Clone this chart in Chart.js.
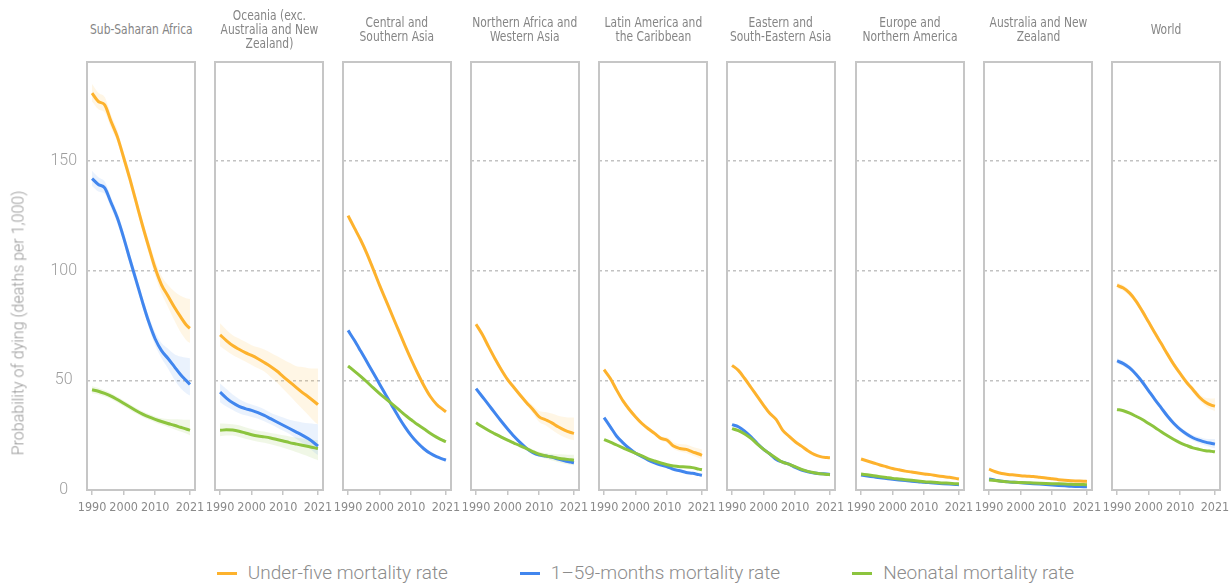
<!DOCTYPE html>
<html>
<head>
<meta charset="utf-8">
<script src="https://cdn.jsdelivr.net/npm/chart.js@4.4.1/dist/chart.umd.min.js"></script>
<style>
  html, body { margin: 0; padding: 0; background: #ffffff; }
  #wrap { position: relative; width: 1229px; height: 584px; overflow: hidden; background: #fff; }
  #wrap canvas { position: absolute; }
  .ttl {
    position: absolute; top: 6px; height: 46px;
    display: flex; align-items: center; justify-content: center; text-align: center;
    white-space: pre-line;
    font-family: 'Liberation Sans Narrow', 'DejaVu Sans Condensed', 'Arial Narrow', sans-serif;
    font-size: 14px; line-height: 14px; color: #858585;
  }
  .ttl span { display: inline-block; transform: scaleX(0.85); }
  .ytitle {
    position: absolute; left: 18px; top: 323px; width: 0; height: 0;
  }
  .ytitle span {
    position: absolute; left: 0; top: 0; white-space: nowrap;
    transform: translate(-50%, -50%) rotate(-90deg);
    font-family: Roboto, 'Noto Sans', sans-serif; font-weight: 300;
    font-size: 16px; color: #999999;
  }
  .legend {
    position: absolute; top: 561px; left: 0; width: 1291px;
    display: flex; justify-content: center; gap: 72px;
    font-family: Roboto, 'Noto Sans', sans-serif; font-weight: 300;
    font-size: 19px; line-height: 24px; color: #8c8c8c;
  }
  .legend .item { display: flex; align-items: center; }
  .legend .swatch { width: 20px; height: 3px; margin-right: 11px; }
</style>
</head>
<body>
<div id="wrap"></div>
<script>
// Years sampled along each curve
const years = [1990, 1992, 1994, 1996, 1998, 2000, 2002, 2004, 2006, 2008, 2010, 2012, 2014, 2016, 2018, 2020, 2021];
const xTicks = [1990, 2000, 2010, 2021];
const yTicks = [0, 50, 100, 150];

const regionNames = [
  'Sub-Saharan Africa',
  'Oceania (exc.\nAustralia and New\nZealand)',
  'Central and\nSouthern Asia',
  'Northern Africa and\nWestern Asia',
  'Latin America and\nthe Caribbean',
  'Eastern and\nSouth-Eastern Asia',
  'Europe and\nNorthern America',
  'Australia and New\nZealand',
  'World'
];
const seriesNames = ['Under-five mortality rate', '1–59-months mortality rate', 'Neonatal mortality rate'];

// Sub-Saharan Africa
const ssaU5   = [180.8, 177, 175.5, 168, 161, 151.5, 141.6, 131, 120.4, 110.5, 101, 93.5, 88.5, 83.5, 79, 74.9, 73.7];
const ssaU5Lo = [177, 173.5, 172, 165, 158.5, 149, 139, 128.5, 118, 107.5, 97.5, 89.5, 83.5, 77.5, 72, 68, 67];
const ssaU5Hi = [185, 181, 179, 171, 164, 154, 144.5, 133.5, 123, 113.5, 104.5, 97.5, 93.5, 90.5, 88.5, 87.3, 87];
const ssaPost   = [141.9, 139.2, 137.7, 131, 124, 115, 105, 95.3, 85.5, 76.4, 68.8, 63.5, 60, 56.3, 52.6, 49.6, 48.1];
const ssaPostLo = [138.5, 136, 135, 128.5, 121.5, 112.5, 102.5, 92.8, 83, 73.8, 65.8, 60, 55.5, 50.5, 46.5, 43.8, 43];
const ssaPostHi = [145.5, 142.5, 140.5, 133.5, 126.5, 117.5, 107.5, 97.8, 88, 79, 71.8, 67, 64.5, 62, 60.8, 60.2, 60];
const ssaNeo   = [45.7, 45, 44, 42.8, 41.2, 39.5, 37.8, 36.1, 34.6, 33.3, 32.2, 31.2, 30.3, 29.5, 28.6, 27.7, 27.2];
const ssaNeoLo = [44.1, 43.5, 42.6, 41.5, 39.9, 38.2, 36.5, 34.8, 33.3, 32, 30.8, 29.7, 28.7, 27.7, 26.6, 25.6, 25];
const ssaNeoHi = [47.3, 46.5, 45.4, 44.1, 42.5, 40.8, 39.1, 37.4, 35.9, 34.6, 33.5, 32.7, 32.4, 32.2, 32.1, 32, 32];

// Oceania (exc. Australia and New Zealand)
const oceU5   = [70.7, 68.1, 65.8, 64.1, 62.6, 61.3, 59.8, 58.1, 56.3, 54.2, 51.7, 49.3, 46.9, 44.5, 42.4, 40.1, 38.9];
const oceU5Lo = [65.5, 63.5, 61.5, 60, 58.5, 57, 55.5, 54, 51.5, 49, 46, 43, 40, 37, 34, 31, 30];
const oceU5Hi = [76, 73, 70.5, 69, 67.5, 66, 65, 64, 62.5, 61, 59.5, 58, 56.5, 56, 55.5, 55.3, 55.3];
const ocePost   = [44.6, 41.9, 39.7, 38.1, 37.1, 36.3, 35.3, 34, 32.5, 31, 29.5, 28, 26.5, 25, 23.3, 21.2, 20];
const ocePostLo = [40, 38, 36.5, 35, 34, 33.3, 32.5, 31.3, 30, 28.5, 27, 25.5, 23.5, 21.5, 19.5, 17, 16];
const ocePostHi = [48.5, 46, 43.5, 41.5, 40, 39, 38, 36.8, 35.2, 34, 33, 32, 31.3, 30.8, 30.4, 30.1, 30];
const oceNeo   = [27.2, 27.4, 27.3, 26.8, 26, 25.2, 24.6, 24.2, 23.7, 23, 22.3, 21.6, 21, 20.4, 19.8, 19.2, 18.9];
const oceNeoLo = [24.5, 24.8, 24.8, 24.2, 23.4, 22.7, 22, 21.5, 20.8, 20, 19.2, 18.3, 17.3, 16.3, 15.3, 14.1, 13.6];
const oceNeoHi = [30.3, 30.2, 30, 29.5, 28.6, 27.8, 27, 26.6, 26, 25.5, 24.9, 24.4, 23.9, 23.5, 23.1, 22.8, 22.7];

// Central and Southern Asia
const csaU5   = [125, 119.4, 113.9, 107.6, 100.5, 93.2, 86.4, 79.5, 72.7, 65.9, 59.4, 53.3, 47.6, 42.7, 39.1, 36.7, 35.6];
const csaPost = [72.7, 68.2, 63.3, 58.3, 53.3, 48.2, 43.2, 38.2, 33.3, 28.8, 24.8, 21.5, 18.8, 16.7, 15.2, 14.1, 13.6];
const csaNeo  = [56.5, 54.2, 51.8, 49.2, 46.5, 43.9, 41.5, 39.1, 36.7, 34.2, 32, 29.8, 27.9, 25.9, 24.1, 22.6, 22];

// Northern Africa and Western Asia
const nawU5   = [75.5, 70.8, 65.2, 59.8, 54.8, 50.3, 46.7, 43.2, 39.8, 36.7, 33.3, 32, 30.6, 28.8, 27.3, 26.2, 25.8];
const nawU5Lo = [74.5, 69.8, 64.2, 58.8, 53.8, 49.3, 45.7, 42.1, 38.6, 35, 31, 29.5, 27.5, 25.5, 24, 23, 22.7];
const nawU5Hi = [76.5, 71.8, 66.2, 60.8, 55.8, 51.3, 47.7, 44.3, 41, 38.5, 36, 35.5, 34.8, 33.8, 33.3, 33, 33];
const nawPost = [46.2, 42.5, 38.8, 35, 31.3, 27.8, 24.5, 21.6, 19, 17, 15.9, 15.5, 15, 14.1, 13.3, 12.7, 12.4];
const nawNeo   = [30.6, 28.8, 27.1, 25.6, 24.1, 22.7, 21.4, 20.1, 18.9, 17.5, 16.3, 15.6, 15, 14.5, 14.1, 13.8, 13.6];
const nawNeoLo = [29.9, 28.1, 26.4, 24.9, 23.4, 22, 20.7, 19.3, 18, 16.5, 15.2, 14.3, 13.4, 12.7, 12, 11.5, 11.2];
const nawNeoHi = [31.3, 29.5, 27.8, 26.3, 24.8, 23.4, 22.1, 20.9, 19.8, 18.5, 17.4, 16.9, 16.5, 16.3, 16.2, 16.1, 16.1];

// Latin America and the Caribbean
const lacU5   = [54.8, 50.8, 45.5, 40.6, 36.7, 33.3, 30.3, 27.9, 25.8, 23.5, 22.7, 20, 18.9, 18.5, 17.4, 16.4, 15.8];
const lacU5Lo = [53.8, 49.8, 44.5, 39.6, 35.7, 32.3, 29.3, 26.9, 24.8, 22.5, 21.4, 18.7, 17.5, 16.9, 15.7, 14.6, 13.9];
const lacU5Hi = [55.8, 51.8, 46.5, 41.6, 37.7, 34.3, 31.3, 28.9, 26.8, 24.5, 24, 21.8, 21, 20.7, 19.7, 18.9, 18.4];
const lacPost = [33, 28.8, 24.5, 21.5, 18.9, 16.7, 15.2, 13.6, 12.4, 11.4, 10.6, 9.4, 8.8, 8, 7.6, 7, 6.7];
const lacNeo  = [23, 21.8, 20.5, 19.2, 17.9, 16.7, 15.5, 14.2, 13.2, 12.3, 11.5, 10.9, 10.6, 10.5, 10.2, 9.5, 9.2];

// Eastern and South-Eastern Asia
const esaU5   = [56.8, 54.5, 50.8, 46.7, 42.7, 38.6, 34.8, 32.1, 27.3, 24.5, 22, 20, 17.9, 16.2, 15.2, 14.8, 14.7];
const esaPost = [29.8, 28.8, 26.8, 24.2, 21.2, 18.5, 16.4, 13.9, 12.7, 11.8, 10.3, 9.1, 8.3, 7.7, 7.4, 7.3, 7.1];
const esaNeo  = [28, 27, 25.5, 23.5, 20.9, 18.5, 16.4, 14.5, 12.7, 11.8, 10.6, 9.4, 8.5, 7.9, 7.4, 7.1, 7];

// Europe and Northern America
const enaU5   = [14.1, 13.2, 12.3, 11.4, 10.6, 9.8, 9.2, 8.6, 8.2, 7.7, 7.3, 7, 6.5, 6.1, 5.8, 5.3, 5];
const enaPost = [6.8, 6.4, 6, 5.6, 5.2, 4.9, 4.6, 4.3, 4, 3.8, 3.5, 3.3, 3.1, 2.9, 2.7, 2.5, 2.4];
const enaNeo  = [7.3, 6.9, 6.5, 6.1, 5.7, 5.3, 5, 4.7, 4.4, 4.1, 3.8, 3.6, 3.4, 3.2, 3.1, 2.9, 2.9];

// Australia and New Zealand
const anzU5   = [9.5, 8.3, 7.5, 7.1, 6.8, 6.5, 6.3, 6.1, 5.8, 5.5, 5.1, 4.7, 4.4, 4.2, 4.1, 4, 3.9];
const anzPost = [5, 4.5, 4, 3.7, 3.5, 3.3, 3.1, 2.9, 2.7, 2.5, 2.3, 2.1, 1.9, 1.7, 1.6, 1.5, 1.5];
const anzNeo  = [4.6, 4.3, 4, 3.7, 3.5, 3.4, 3.3, 3.2, 3.1, 3, 2.9, 2.8, 2.7, 2.6, 2.5, 2.5, 2.4];

// World
const wldU5   = [93.2, 92, 89.7, 86.1, 81.5, 76.5, 71.5, 66.7, 61.8, 57.1, 53, 49.1, 45.8, 42.4, 40, 38.6, 38.2];
const wldU5Lo = [91.9, 90.7, 88.4, 84.8, 80.2, 75.3, 70.3, 65.5, 60.6, 55.9, 51.8, 47.8, 44.4, 40.9, 38.2, 36.6, 35.9];
const wldU5Hi = [94.5, 93.3, 91, 87.4, 82.8, 77.7, 72.7, 67.9, 63, 58.3, 54.2, 50.4, 47.2, 44, 42, 41.7, 41.8];
const wldPost   = [58.8, 57.6, 55.6, 52.7, 49.2, 45.2, 41.2, 37.4, 33.6, 30.3, 27.6, 25.5, 23.8, 22.7, 21.8, 21.2, 20.9];
const wldPostLo = [57.6, 56.4, 54.4, 51.6, 48.1, 44.1, 40.1, 36.3, 32.5, 29.2, 26.5, 24.3, 22.5, 21.3, 20.3, 19.4, 19];
const wldPostHi = [60, 58.8, 56.8, 53.8, 50.3, 46.3, 42.3, 38.5, 34.7, 31.4, 28.7, 26.7, 25.1, 24.1, 23.4, 23.2, 23.2];
const wldNeo  = [36.7, 36.1, 35, 33.6, 32.1, 30.3, 28.5, 26.5, 24.7, 23, 21.5, 20.3, 19.2, 18.5, 17.9, 17.6, 17.4];

// Panel table: [under-five, 1–59 months, neonatal], each with an optional [low, high] band
const panels = [
  { lines: [ssaU5, ssaPost, ssaNeo], bands: [[ssaU5Lo, ssaU5Hi], [ssaPostLo, ssaPostHi], [ssaNeoLo, ssaNeoHi]] },
  { lines: [oceU5, ocePost, oceNeo], bands: [[oceU5Lo, oceU5Hi], [ocePostLo, ocePostHi], [oceNeoLo, oceNeoHi]] },
  { lines: [csaU5, csaPost, csaNeo], bands: [null, null, null] },
  { lines: [nawU5, nawPost, nawNeo], bands: [[nawU5Lo, nawU5Hi], null, [nawNeoLo, nawNeoHi]] },
  { lines: [lacU5, lacPost, lacNeo], bands: [[lacU5Lo, lacU5Hi], null, null] },
  { lines: [esaU5, esaPost, esaNeo], bands: [null, null, null] },
  { lines: [enaU5, enaPost, enaNeo], bands: [null, null, null] },
  { lines: [anzU5, anzPost, anzNeo], bands: [null, null, null] },
  { lines: [wldU5, wldPost, wldNeo], bands: [[wldU5Lo, wldU5Hi], [wldPostLo, wldPostHi], null] }
];

const lineColors = ['#fdb22d', '#4186ee', '#8cc43e'];
const bandColors = ['rgba(253,178,45,0.12)', 'rgba(65,134,238,0.11)', 'rgba(140,196,62,0.13)'];

// Geometry of the small multiples
const FRAME_X0 = 86.7, FRAME_STEP = 128.15, FRAME_W = 108;
const FRAME_TOP = 62, FRAME_BOTTOM = 490;
const PAD_T = 4, PAD_SIDE = 14, XAXIS_H = 32;

const narrowFont = "'Liberation Sans Narrow', 'DejaVu Sans Condensed', 'Arial Narrow', sans-serif";
const wrap = document.getElementById('wrap');

const framePlugin = {
  id: 'panelFrame',
  beforeDatasetsDraw(chart) {
    const { ctx, chartArea: a } = chart;
    ctx.save();
    ctx.strokeStyle = '#c6c6c6';
    ctx.lineWidth = 2;
    ctx.strokeRect(a.left, a.top, a.right - a.left, a.bottom - a.top);
    ctx.restore();
  }
};

const toPoints = vals => years.map((yr, k) => ({ x: yr, y: vals[k] }));

panels.forEach((panel, i) => {
  const frameLeft = Math.round(FRAME_X0 + i * FRAME_STEP);
  const first = i === 0;
  const canvasLeft = first ? 0 : frameLeft - PAD_SIDE;
  const width = (frameLeft - canvasLeft) + FRAME_W + PAD_SIDE;
  const height = PAD_T + (FRAME_BOTTOM - FRAME_TOP) + XAXIS_H;

  const canvas = document.createElement('canvas');
  canvas.width = width;
  canvas.height = height;
  canvas.style.left = canvasLeft + 'px';
  canvas.style.top = (FRAME_TOP - PAD_T) + 'px';
  canvas.style.width = width + 'px';
  canvas.style.height = height + 'px';
  wrap.appendChild(canvas);

  const title = document.createElement('div');
  title.className = 'ttl';
  title.style.left = (frameLeft - 12) + 'px';
  title.style.width = (FRAME_W + 24) + 'px';
  const tspan = document.createElement('span');
  tspan.textContent = regionNames[i];
  title.appendChild(tspan);
  wrap.appendChild(title);

  const datasets = [];
  // lines: neonatal on top, then 1–59 months, then under-five
  [2, 1, 0].forEach(s => {
    datasets.push({
      label: seriesNames[s],
      data: toPoints(panel.lines[s]),
      borderColor: lineColors[s],
      borderWidth: 3,
      pointRadius: 0,
      fill: false,
      cubicInterpolationMode: 'monotone',
      order: 0
    });
  });
  // uncertainty bands underneath
  panel.bands.forEach((band, s) => {
    if (!band) return;
    datasets.push({
      label: seriesNames[s] + ' upper',
      data: toPoints(band[1]),
      borderWidth: 0, borderColor: 'rgba(0,0,0,0)',
      pointRadius: 0, fill: false,
      cubicInterpolationMode: 'monotone',
      order: 1
    });
    datasets.push({
      label: seriesNames[s] + ' lower',
      data: toPoints(band[0]),
      borderWidth: 0, borderColor: 'rgba(0,0,0,0)',
      backgroundColor: bandColors[s],
      pointRadius: 0, fill: '-1',
      cubicInterpolationMode: 'monotone',
      order: 1
    });
  });

  new Chart(canvas, {
    type: 'line',
    data: { datasets },
    plugins: [framePlugin],
    options: {
      responsive: false,
      animation: false,
      devicePixelRatio: 1,
      layout: { padding: { left: first ? 0 : PAD_SIDE, right: PAD_SIDE, top: PAD_T, bottom: 0 } },
      plugins: { legend: { display: false }, tooltip: { enabled: false }, title: { display: false } },
      scales: {
        x: {
          type: 'linear',
          min: 1988.4, max: 2022.6,
          afterBuildTicks: s => { s.ticks = xTicks.map(v => ({ value: v })); },
          afterFit: s => { s.height = XAXIS_H; s.paddingLeft = 0; s.paddingRight = 0; },
          grid: { display: true, drawOnChartArea: false, drawTicks: true, tickLength: 5, color: '#c6c6c6', lineWidth: 1.5 },
          border: { display: false },
          ticks: {
            autoSkip: false, maxRotation: 0, padding: 5,
            color: '#8a8a8a',
            font: { family: narrowFont, size: 12.5 },
            callback: v => String(v)
          }
        },
        y: {
          type: 'linear',
          min: 0, max: 195,
          afterBuildTicks: s => { s.ticks = yTicks.map(v => ({ value: v })); },
          afterFit: s => { s.width = first ? frameLeft : 0; s.paddingTop = 0; s.paddingBottom = 0; },
          grid: {
            drawTicks: false,
            color: c => (c.tick && c.tick.value === 0) ? 'rgba(0,0,0,0)' : '#c2c2c2',
            lineWidth: 1.5
          },
          border: { display: false, dash: [3, 3] },
          ticks: {
            display: first,
            crossAlign: 'center',
            padding: 10,
            color: '#9e9e9e',
            font: { family: "Roboto, 'Noto Sans', sans-serif", size: 16, weight: '300' },
            callback: v => String(v)
          }
        }
      }
    }
  });
});

// Y axis title
const yt = document.createElement('div');
yt.className = 'ytitle';
yt.innerHTML = '<span>Probability of dying (deaths per 1,000)</span>';
wrap.appendChild(yt);

// Legend
const legend = document.createElement('div');
legend.className = 'legend';
seriesNames.forEach((name, s) => {
  const item = document.createElement('div');
  item.className = 'item';
  const sw = document.createElement('span');
  sw.className = 'swatch';
  sw.style.background = lineColors[s];
  const tx = document.createElement('span');
  tx.textContent = name;
  item.appendChild(sw);
  item.appendChild(tx);
  legend.appendChild(item);
});
wrap.appendChild(legend);
</script>
</body>
</html>
